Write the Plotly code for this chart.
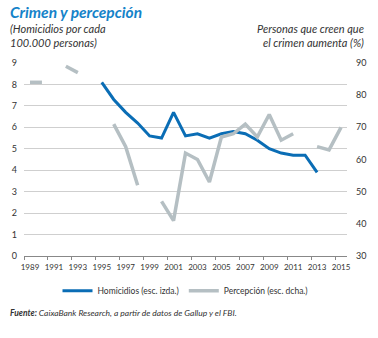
import plotly.graph_objects as go

years = list(range(1989, 2016))
homicidios = [None, None, None, None, None, None,
              8.1, 7.3, 6.7, 6.2, 5.6, 5.5, 6.7, 5.6, 5.7, 5.5, 5.7, 5.8, 5.7, 5.4, 5.0, 4.8, 4.7, 4.7, 3.9,
              None, None]
percepcion = [84, 84, None, 89, 87, None, None, 71, 64, 52, None, 47, 41, 62, 60, 53, 67, 68, 71, 67, 74, 66, 68,
              None, 64, 63, 70]
tick_years = list(range(1989, 2016, 2))
tick_labels = [str(y) for y in tick_years]

BLUE = "#0a6db5"
GRAY = "#b5bfc3"
FONT = "Lato"
TXT = "#333333"

fig = go.Figure()
fig.add_trace(go.Scatter(x=years, y=homicidios, mode="lines", name="Homicidios (esc. izda.)",
                         line=dict(color=BLUE, width=3), connectgaps=False, yaxis="y"))
fig.add_trace(go.Scatter(x=years, y=percepcion, mode="lines", name="Percepción (esc. dcha.)",
                         line=dict(color=GRAY, width=3.5), connectgaps=False, yaxis="y2"))

fig.update_layout(
    width=378, height=338,
    margin=dict(l=19, r=27, t=63, b=82),
    paper_bgcolor="white", plot_bgcolor="white",
    font=dict(family=FONT, size=9, color=TXT),
    showlegend=True,
    legend=dict(orientation="h", x=0.5, xanchor="center", y=-0.18, yanchor="middle",
                font=dict(size=8.5, color=TXT), itemwidth=30, traceorder="normal"),
    xaxis=dict(range=[1988.5, 2015.5], tickmode="array",
               tickvals=[y - 0.5 for y in tick_years], ticktext=tick_labels,
               ticklabelshift=6, ticks="outside", ticklen=3, tickcolor="#888888",
               showline=True, linecolor="#888888", linewidth=1, showgrid=False, zeroline=False,
               tickfont=dict(size=8, color=TXT)),
    yaxis=dict(range=[0, 9], dtick=1, showgrid=True, gridcolor="#cfcfcf", gridwidth=1,
               zeroline=False, showline=False, ticks="", ticklabelstandoff=6,
               tickfont=dict(size=9, color=TXT)),
    yaxis2=dict(range=[30, 90], dtick=10, overlaying="y", side="right", showgrid=False,
                zeroline=False, showline=False, ticks="", ticklabelstandoff=8,
                tickfont=dict(size=9, color=TXT)),
)

fig.add_annotation(xref="paper", yref="paper", x=-0.05, y=1.265, xanchor="left", yanchor="middle",
                   text="<b><i>Crimen y percepción</i></b>", showarrow=False,
                   font=dict(size=15.5, color="#1583c9", family=FONT))
fig.add_annotation(xref="paper", yref="paper", x=-0.05, y=1.14, xanchor="left", yanchor="middle",
                   text="<i>(Homicidios por cada<br>100.000 personas)</i>", showarrow=False, align="left",
                   font=dict(size=11, color=TXT, family=FONT))
fig.add_annotation(xref="paper", yref="paper", x=1.06, y=1.14, xanchor="right", yanchor="middle",
                   text="<i>Personas que creen que<br>el crimen aumenta (%)</i>", showarrow=False, align="right",
                   font=dict(size=11, color=TXT, family=FONT))
fig.add_annotation(xref="paper", yref="paper", x=-0.05, y=-0.295, xanchor="left", yanchor="middle",
                   text="<b><i>Fuente:</i></b><i> CaixaBank Research, a partir de datos de Gallup y el FBI.</i>",
                   showarrow=False, align="left",
                   font=dict(size=8.5, color=TXT, family=FONT))

fig.write_html("out.html")
